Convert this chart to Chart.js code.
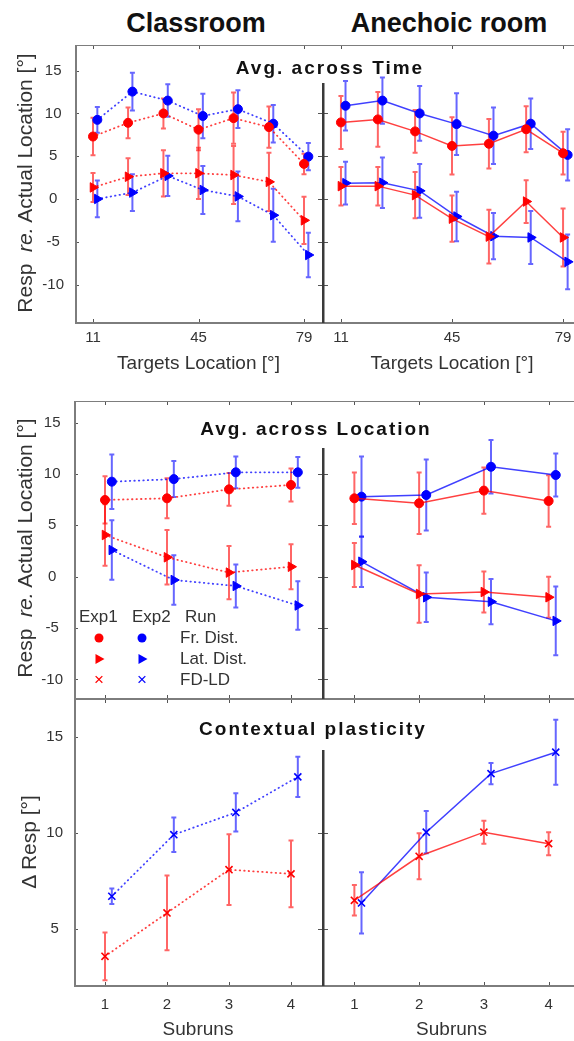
<!DOCTYPE html>
<html lang="en">
<head>
<meta charset="UTF-8">
<title>Response bias: Classroom vs Anechoic room</title>
<script src="https://cdn.jsdelivr.net/npm/chart.js"></script>
<style>
  body { margin: 0; width: 574px; height: 1041px; overflow: hidden; background: #fff; position: relative;
         font-family: 'Liberation Sans', Arial, sans-serif; }
  .panel { position: absolute; }
  .panel canvas { display: block; }
  .txt { position: absolute; white-space: nowrap; transform: translate(-50%, -50%); }
  .room { font-size: 27px; font-weight: bold; color: #111; }
  .ptitle { font-size: 19px; font-weight: bold; letter-spacing: 2px; color: #111; }
  .ylab { font-size: 21px; color: #333; transform: translate(-50%, -50%) rotate(-90deg); }
  .leg { position: absolute; font-size: 17px; color: #333; white-space: nowrap; transform: translateY(-50%); }
  .mk { position: absolute; transform: translate(-50%, -50%); }
  .circ { width: 9px; height: 9px; border-radius: 50%; }
  .tri { width: 0; height: 0; border-top: 5px solid transparent; border-bottom: 5px solid transparent; }
  .cross { font-size: 17px; line-height: 17px; }
</style>
</head>
<body>
  <div class="txt room" style="left:196px;top:23px">Classroom</div>
  <div class="txt room" style="left:449px;top:23px">Anechoic room</div>

  <div class="panel" style="left:0;top:45px"><canvas id="tl" width="322" height="330"></canvas></div>
  <div class="panel" style="left:322px;top:45px"><canvas id="tr" width="260" height="330"></canvas></div>
  <div class="panel" style="left:0;top:401px"><canvas id="ml" width="322" height="298"></canvas></div>
  <div class="panel" style="left:322px;top:401px"><canvas id="mr" width="259" height="298"></canvas></div>
  <div class="panel" style="left:0;top:699px"><canvas id="bl" width="322" height="342"></canvas></div>
  <div class="panel" style="left:322px;top:699px"><canvas id="br" width="259" height="342"></canvas></div>

  <div class="txt ptitle" style="left:330px;top:68px">Avg. across Time</div>
  <div class="txt ptitle" style="left:316px;top:429px">Avg. across Location</div>
  <div class="txt ptitle" style="left:313px;top:729px">Contextual plasticity</div>

  <div class="txt ylab" style="left:25px;top:183px">Resp&nbsp; <i>re.</i> Actual Location [°]</div>
  <div class="txt ylab" style="left:25px;top:548px">Resp&nbsp; <i>re.</i> Actual Location [°]</div>
  <div class="txt ylab" style="left:29px;top:842px">&Delta; Resp [°]</div>

  <!-- legend of the middle left panel -->
  <div class="leg" style="left:79px;top:617px">Exp1</div>
  <div class="leg" style="left:132px;top:617px">Exp2</div>
  <div class="leg" style="left:185px;top:617px">Run</div>
  <div class="mk circ" style="left:99px;top:638px;background:#f00"></div>
  <div class="mk circ" style="left:142px;top:638px;background:#00f"></div>
  <div class="leg" style="left:180px;top:638px">Fr. Dist.</div>
  <div class="mk tri" style="left:100px;top:659px;border-left:9px solid #f00"></div>
  <div class="mk tri" style="left:143px;top:659px;border-left:9px solid #00f"></div>
  <div class="leg" style="left:180px;top:659px">Lat. Dist.</div>
  <div class="mk cross" style="left:99px;top:679px;color:#f00">×</div>
  <div class="mk cross" style="left:142px;top:679px;color:#00f">×</div>
  <div class="leg" style="left:180px;top:680px">FD-LD</div>

<script>
// ---- data ----
const locations = [11, 22.3, 33.7, 45, 56.3, 67.7, 79];
const subruns = [1, 2, 3, 4];
const locTicks = [11, 45, 79];
const subTicks = [1, 2, 3, 4];
const respTicks = [-10, -5, 0, 5, 10, 15];
const deltaTicks = [5, 10, 15];

// Classroom, avg. across time
const clsTimeFr1 = [7.3, 8.9, 10.0, 8.1, 9.45, 8.4, 4.1];
const clsTimeFr1Err = [2.2, 1.8, 1.75, 2.4, 3.0, 2.4, 1.2];
const clsTimeLat1 = [1.35, 2.6, 3.0, 3.0, 2.8, 2.0, -2.5];
const clsTimeLat1Err = [1.7, 2.15, 2.7, 3.0, 3.4, 3.4, 2.75];
const clsTimeFr2 = [9.25, 12.55, 11.5, 9.7, 10.5, 8.8, 4.95];
const clsTimeFr2Err = [1.5, 2.2, 1.9, 2.6, 2.2, 2.2, 1.6];
const clsTimeLat2 = [0.0, 0.75, 2.7, 1.05, 0.3, -1.9, -6.55];
const clsTimeLat2Err = [2.15, 2.15, 2.35, 2.8, 2.9, 3.1, 2.6];

// Anechoic room, avg. across time
const aneTimeFr1 = [8.95, 9.3, 7.9, 6.2, 6.45, 8.15, 5.35];
const aneTimeFr1Err = [3.1, 3.2, 2.5, 3.35, 2.9, 2.7, 2.5];
const aneTimeLat1 = [1.5, 1.5, 0.45, -2.3, -4.4, -0.3, -4.5];
const aneTimeLat1Err = [2.25, 2.25, 2.7, 2.7, 3.15, 2.5, 3.4];
const aneTimeFr2 = [10.9, 11.5, 10.0, 8.75, 7.4, 8.8, 5.15];
const aneTimeFr2Err = [2.9, 2.7, 3.2, 3.6, 3.3, 2.95, 3.0];
const aneTimeLat2 = [1.85, 1.9, 0.95, -2.05, -4.35, -4.5, -7.35];
const aneTimeLat2Err = [2.5, 2.95, 3.15, 2.9, 2.7, 3.1, 3.2];

// Classroom, avg. across location
const clsLocFr1 = [7.47, 7.63, 8.5, 8.93];
const clsLocFr1Err = [2.3, 1.95, 1.6, 1.6];
const clsLocLat1 = [4.06, 1.89, 0.4, 0.97];
const clsLocLat1Err = [3.0, 2.65, 2.6, 2.2];
const clsLocFr2 = [9.25, 9.5, 10.16, 10.16];
const clsLocFr2Err = [2.65, 1.75, 1.55, 1.5];
const clsLocLat2 = [2.6, -0.32, -0.9, -2.8];
const clsLocLat2Err = [2.9, 2.4, 2.1, 2.35];

// Anechoic room, avg. across location
const aneLocFr1 = [7.63, 7.15, 8.38, 7.37];
const aneLocFr1Err = [2.5, 3.0, 2.25, 2.5];
const aneLocLat1 = [1.14, -1.68, -1.49, -2.0];
const aneLocLat1Err = [2.15, 2.8, 2.0, 2.0];
const aneLocFr2 = [7.79, 7.95, 10.7, 9.9];
const aneLocFr2Err = [3.9, 3.45, 2.6, 2.1];
const aneLocLat2 = [1.46, -2.0, -2.43, -4.3];
const aneLocLat2Err = [2.45, 2.4, 2.2, 3.35];

// Contextual plasticity (FD-LD)
const clsPlast1 = [3.55, 5.82, 8.08, 7.86];
const clsPlast1Err = [1.25, 1.95, 1.85, 1.75];
const clsPlast2 = [6.69, 9.91, 11.07, 12.93];
const clsPlast2Err = [0.4, 0.9, 1.0, 1.05];
const anePlast1 = [6.48, 8.78, 10.04, 9.44];
const anePlast1Err = [0.8, 1.2, 0.6, 0.6];
const anePlast2 = [6.34, 10.04, 13.1, 14.22];
const anePlast2Err = [1.6, 1.1, 0.55, 1.7];

// Exp2 drawn slightly right of Exp1
const locShift = 1.4;
const subShift = 0.11;

Chart.defaults.font.family = "'Liberation Sans', Arial, sans-serif";
Chart.defaults.color = '#333';

const RED = '#ff0000', BLUE = '#0000ff';

function series(xs, ys, es, shift, color, kind, dotted) {
  const rgb = color === RED ? '255,0,0' : '0,0,255';
  let style = 'circle', radius = 4.5, rot = 0;
  if (kind === 'lat') { style = 'triangle'; radius = 5.5; rot = 90; }
  if (kind === 'cross') { style = 'crossRot'; radius = 5; }
  return {
    data: xs.map((x, i) => ({ x: x + shift, y: ys[i], e: es[i] })),
    showLine: true,
    borderColor: 'rgba(' + rgb + ',0.75)',
    borderWidth: dotted ? 1.8 : 1.5,
    borderDash: dotted ? [0.5, 4] : [],
    borderCapStyle: dotted ? 'round' : 'butt',
    pointStyle: style,
    pointRadius: radius,
    pointRotation: rot,
    pointBackgroundColor: color,
    pointBorderColor: color,
    pointBorderWidth: kind === 'cross' ? 1.6 : 1,
    errColor: 'rgba(' + rgb + ',0.6)'
  };
}

// error bars, frame, inner ticks and the thick divider
const panelPlugin = {
  id: 'panel',
  beforeDatasetsDraw(chart) {
    const { ctx, scales: { x, y } } = chart;
    ctx.save();
    ctx.lineWidth = 2;
    chart.data.datasets.forEach(ds => {
      ctx.strokeStyle = ds.errColor;
      ds.data.forEach(d => {
        const px = x.getPixelForValue(d.x);
        const t = y.getPixelForValue(d.y + d.e);
        const b = y.getPixelForValue(d.y - d.e);
        ctx.beginPath();
        ctx.moveTo(px, t); ctx.lineTo(px, b);
        ctx.moveTo(px - 2.5, t); ctx.lineTo(px + 2.5, t);
        ctx.moveTo(px - 2.5, b); ctx.lineTo(px + 2.5, b);
        ctx.stroke();
      });
    });
    ctx.restore();
  },
  afterDatasetsDraw(chart, args, opts) {
    const { ctx, chartArea: a, scales: { x, y } } = chart;
    const innerTop = a.top + opts.innerTop;
    ctx.save();
    ctx.strokeStyle = '#555';
    ctx.lineWidth = 1;
    ctx.beginPath();
    x.ticks.forEach(t => {
      const px = Math.round(x.getPixelForValue(t.value)) + 0.5;
      ctx.moveTo(px, a.top); ctx.lineTo(px, a.top + 4);
      ctx.moveTo(px, a.bottom); ctx.lineTo(px, a.bottom - 4);
    });
    y.ticks.forEach(t => {
      const py = Math.round(y.getPixelForValue(t.value)) + 0.5;
      if (opts.leftFrame) {
        ctx.moveTo(a.left, py); ctx.lineTo(a.left + 4, py);
        if (py > innerTop) { ctx.moveTo(a.right, py); ctx.lineTo(a.right - 4, py); }
      } else if (py > innerTop) {
        ctx.moveTo(a.left, py); ctx.lineTo(a.left + 6, py);
      }
    });
    ctx.stroke();

    ctx.strokeStyle = '#7d7d7d';
    ctx.lineWidth = 2;
    ctx.beginPath();
    ctx.moveTo(a.left, a.top); ctx.lineTo(a.right, a.top);
    ctx.moveTo(a.left, a.bottom); ctx.lineTo(a.right, a.bottom);
    if (opts.leftFrame) { ctx.moveTo(a.left + 1, a.top); ctx.lineTo(a.left + 1, a.bottom); }
    ctx.stroke();

    if (!opts.leftFrame) {
      ctx.strokeStyle = '#3a3a3a';
      ctx.lineWidth = 3;
      ctx.beginPath();
      ctx.moveTo(a.left + 1, innerTop);
      ctx.lineTo(a.left + 1, a.bottom + (opts.dividerExtra || 0));
      ctx.stroke();
    }
    ctx.restore();
  }
};

function noPad(s) {
  s.paddingLeft = 0; s.paddingRight = 0; s.paddingTop = 0; s.paddingBottom = 0;
}

function makePanel(id, p) {
  const left = p.yWidth > 0;
  new Chart(document.getElementById(id), {
    type: 'scatter',
    data: { datasets: p.datasets },
    plugins: [panelPlugin],
    options: {
      responsive: false,
      animation: false,
      layout: { padding: 0, autoPadding: false },
      plugins: {
        legend: { display: false },
        tooltip: { enabled: false },
        panel: { leftFrame: left, innerTop: p.innerTop, dividerExtra: p.dividerExtra }
      },
      scales: {
        x: {
          type: 'linear', min: p.xMin, max: p.xMax,
          afterBuildTicks: s => { s.ticks = p.xTicks.map(v => ({ value: v })); },
          afterFit: s => { s.height = p.xHeight; noPad(s); },
          grid: { display: false, drawTicks: false },
          border: { display: false },
          ticks: { display: p.xHeight > 0, padding: p.xPad, font: { size: 15 }, color: '#333', maxRotation: 0, autoSkip: false },
          title: { display: !!p.xTitle, text: p.xTitle, font: { size: 19 }, color: '#333', padding: 0 }
        },
        y: {
          type: 'linear', min: p.yMin, max: p.yMax,
          afterBuildTicks: s => { s.ticks = p.yTicks.map(v => ({ value: v })); },
          afterFit: s => { s.width = p.yWidth; noPad(s); },
          grid: { display: false, drawTicks: false },
          border: { display: false },
          ticks: { display: left, padding: 11, crossAlign: 'center', font: { size: 15 }, color: '#333', autoSkip: false }
        }
      }
    }
  });
}

const topRow = { xMin: 5.2, xMax: 84.8, xTicks: locTicks, yMin: -14.5, yMax: 18, yTicks: respTicks,
                 xHeight: 52, xPad: 6, xTitle: 'Targets Location [°]', innerTop: 38 };
const midRow = { xMin: 0.5, xMax: 4.5, xTicks: subTicks, yMin: -11.9, yMax: 17.1, yTicks: respTicks,
                 xHeight: 0, xPad: 0, xTitle: '', innerTop: 47, dividerExtra: 6 };
const botRow = { xMin: 0.5, xMax: 4.5, xTicks: subTicks, yMin: 2, yMax: 17, yTicks: deltaTicks,
                 xHeight: 55, xPad: 10, xTitle: 'Subruns', innerTop: 51 };

makePanel('tl', Object.assign({}, topRow, { yWidth: 75, datasets: [
  series(locations, clsTimeFr1, clsTimeFr1Err, 0, RED, 'fr', true),
  series(locations, clsTimeLat1, clsTimeLat1Err, 0, RED, 'lat', true),
  series(locations, clsTimeFr2, clsTimeFr2Err, locShift, BLUE, 'fr', true),
  series(locations, clsTimeLat2, clsTimeLat2Err, locShift, BLUE, 'lat', true)
]}));
makePanel('tr', Object.assign({}, topRow, { yWidth: 0, datasets: [
  series(locations, aneTimeFr1, aneTimeFr1Err, 0, RED, 'fr', false),
  series(locations, aneTimeLat1, aneTimeLat1Err, 0, RED, 'lat', false),
  series(locations, aneTimeFr2, aneTimeFr2Err, locShift, BLUE, 'fr', false),
  series(locations, aneTimeLat2, aneTimeLat2Err, locShift, BLUE, 'lat', false)
]}));
makePanel('ml', Object.assign({}, midRow, { yWidth: 74, datasets: [
  series(subruns, clsLocFr1, clsLocFr1Err, 0, RED, 'fr', true),
  series(subruns, clsLocLat1, clsLocLat1Err, 0, RED, 'lat', true),
  series(subruns, clsLocFr2, clsLocFr2Err, subShift, BLUE, 'fr', true),
  series(subruns, clsLocLat2, clsLocLat2Err, subShift, BLUE, 'lat', true)
]}));
makePanel('mr', Object.assign({}, midRow, { yWidth: 0, datasets: [
  series(subruns, aneLocFr1, aneLocFr1Err, 0, RED, 'fr', false),
  series(subruns, aneLocLat1, aneLocLat1Err, 0, RED, 'lat', false),
  series(subruns, aneLocFr2, aneLocFr2Err, subShift, BLUE, 'fr', false),
  series(subruns, aneLocLat2, aneLocLat2Err, subShift, BLUE, 'lat', false)
]}));
makePanel('bl', Object.assign({}, botRow, { yWidth: 74, datasets: [
  series(subruns, clsPlast1, clsPlast1Err, 0, RED, 'cross', true),
  series(subruns, clsPlast2, clsPlast2Err, subShift, BLUE, 'cross', true)
]}));
makePanel('br', Object.assign({}, botRow, { yWidth: 0, datasets: [
  series(subruns, anePlast1, anePlast1Err, 0, RED, 'cross', false),
  series(subruns, anePlast2, anePlast2Err, subShift, BLUE, 'cross', false)
]}));
</script>
</body>
</html>
